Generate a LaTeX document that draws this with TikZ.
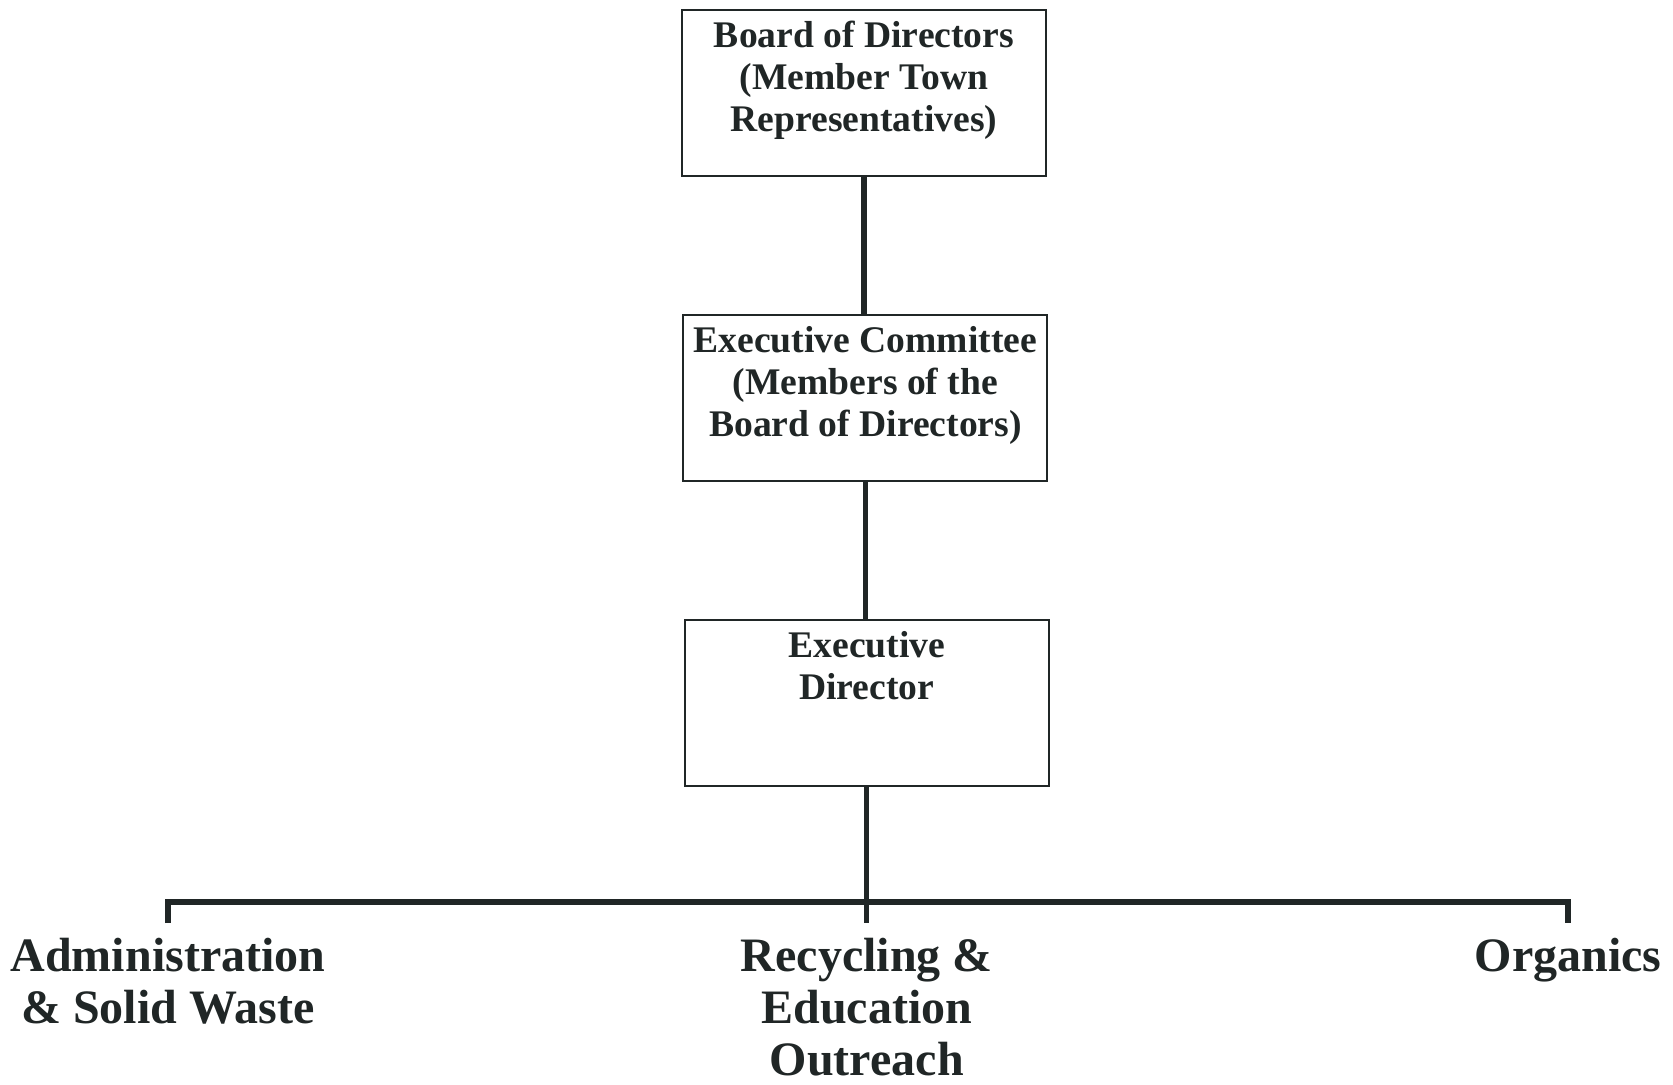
\documentclass[tikz,border=0pt]{standalone}
\usepackage{fontspec}
\setmainfont{Liberation Serif}
\usepackage{xcolor}
\usetikzlibrary{shapes.geometric, arrows, positioning, calc}
\definecolor{ink}{RGB}{32,38,38}
\tikzstyle{orgbox} = [rectangle, minimum width=182pt, minimum height=83pt, inner sep=0pt, text centered, draw=ink, line width=1pt, text=ink, font=\bfseries\fontsize{18.8}{21}\selectfont]
\tikzstyle{unit} = [inner sep=0pt, align=center, text=ink, font=\bfseries\fontsize{24}{26}\selectfont]
\tikzstyle{link} = [draw=ink, line width=2.6pt]
\newcommand{\boxtext}[1]{\parbox[c][80pt][t]{180pt}{\centering\vspace*{4pt}#1\par}}

\begin{document}
\begin{tikzpicture}[node distance=152.5pt]
    \useasboundingbox (0,0) rectangle (836.5pt,-542.5pt);

    % Boxes
    \node (board) [orgbox] at (432pt,-46.5pt) {\boxtext{Board of Directors\\(Member Town\\Representatives)}};
    \node (committee) [orgbox, below of=board, xshift=0.7pt] {\boxtext{Executive Committee\\(Members of the\\Board of Directors)}};
    \node (director) [orgbox, below of=committee, xshift=0.7pt] {\boxtext{Executive\\Director}};

    % Ends of the bar
    \coordinate (admintop) at (84pt,-461.5pt);
    \coordinate (recyclingtop) at (director.south |- admintop);
    \coordinate (organicstop) at (784pt,-461.5pt);

    % Departments
    \node (admin) [unit, below=7.5pt of admintop] {Administration\\\& Solid Waste};
    \node (recycling) [unit, below=7.5pt of recyclingtop] {Recycling \&\\Education\\Outreach};
    \node (organics) [unit, below=7.5pt of organicstop] {Organics};

    % Lines
    \draw [link] (board.south) -- (board.south |- committee.north);
    \draw [link] (committee.south) -- (committee.south |- director.north);
    \draw [link] (director.south) -- (recyclingtop);
    \draw [link] (admintop) -- ++(0,10.5pt) -| (organicstop);

\end{tikzpicture}
\end{document}
